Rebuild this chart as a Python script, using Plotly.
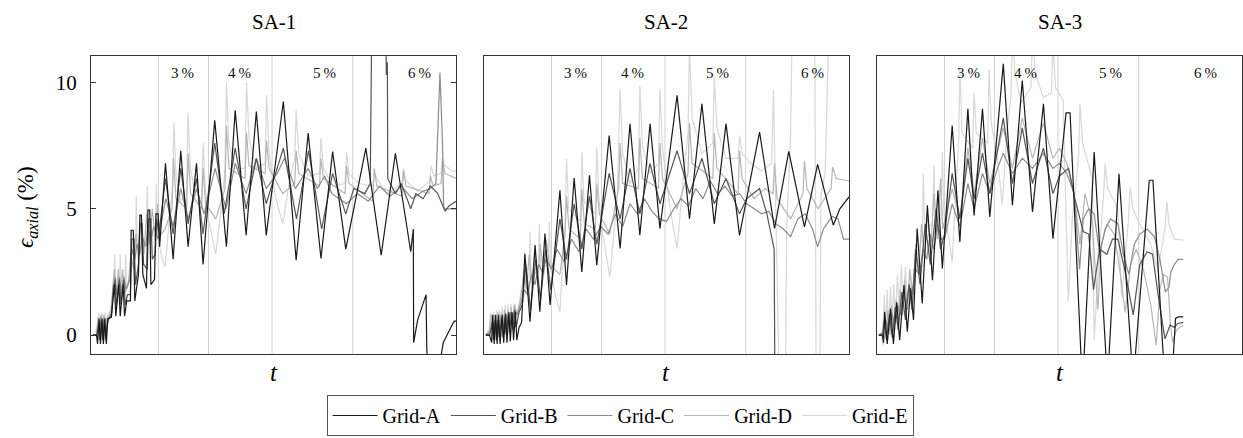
import plotly.graph_objects as go

# ---------------- data ----------------
PANELS = ["SA-1", "SA-2", "SA-3"]
GRIDS = ["Grid-A", "Grid-B", "Grid-C", "Grid-D", "Grid-E"]
AMPLITUDE_BOUNDS = [18.5, 32.2, 49.6, 71.7]          # cycle-amplitude change instants (t, % of record)
AMPLITUDE_LABELS = ["3\u2009%", "4\u2009%", "5\u2009%", "6\u2009%"]
AMPLITUDE_LABEL_T = [25.0, 40.7, 63.9, 90.0]
Y_TICKS = [0, 5, 10]

# (t, eps_axial %) samples, t in % of record length
SA1_A = [(0.5,0),(1.5,0),(1.8,-0.35),(2.2,0.65),(2.6,-0.35),(3.0,0.65),(3.4,-0.35),(3.8,0.65),(4.2,-0.35),(4.6,0.65),
         (5.6,0.7),(6.0,1.3),(6.4,2.0),(6.8,0.75),(7.6,2.0),(8.0,0.75),(8.8,2.0),(9.2,0.75),(9.8,1.35),(10.8,1.35),
         (11.0,4.15),(11.6,4.15),(12.0,1.35),(13.0,2.4),(13.4,4.75),(13.8,4.75),(14.2,2.4),(15.2,1.85),(15.6,4.95),(16.1,4.95),
         (16.4,2.0),(17.4,2.2),(17.8,4.8),(18.4,4.8),(18.8,3.5),(20.4,6.8),(22.5,3.0),(24.6,7.3),(26.6,3.5),(28.9,6.8),
         (30.7,2.8),(33.9,8.5),(37.1,3.5),(39.5,8.9),(42.5,3.95),(45.3,8.85),(48.0,3.95),(52.7,9.25),(56.2,2.96),(59.5,8.0),
         (63.0,3.03),(66.2,7.27),(69.8,3.4),(75.3,7.4),(79.5,3.16),(83.4,7.2),(87.6,3.3),(88.3,4.2),(88.4,-0.3),(89.5,0.6),
         (90.5,1.0),(91.8,1.6),(92.0,-0.6),(92.4,-1.2),(95.5,-1.2),(96.5,-0.3),(98.4,0.25),(99.5,0.55),(100,0.55)]
SA1_B = [(0.5,0),(1.6,0),(2.0,0.3),(2.4,-0.2),(2.8,0.6),(3.2,-0.2),(3.6,0.6),(4.0,-0.2),(4.6,0.6),(5.6,0.8),
         (6.0,1.6),(6.6,2.2),(7.0,1.2),(7.8,2.2),(8.2,1.2),(9.0,2.2),(9.4,1.2),(10.0,1.6),(10.8,1.6),(11.2,3.8),
         (11.8,3.8),(12.2,2.0),(13.0,2.8),(13.4,4.4),(14.0,4.4),(14.4,2.8),(15.4,2.6),(15.8,4.6),(16.4,4.6),(16.8,3.0),
         (17.6,3.2),(18.0,4.6),(18.6,4.0),(20.4,6.2),(22.5,4.0),(24.6,6.6),(26.6,4.4),(28.9,6.2),(30.7,4.0),(33.9,7.6),
         (36.5,4.8),(39.5,7.4),(42.5,5.0),(45.3,7.0),(48.0,5.2),(52.7,7.4),(56.3,4.6),(59.6,7.3),(63.2,4.2),(66.2,6.4),
         (69.8,4.8),(72.0,5.8),(75.0,5.6),(76.5,6.0),(76.9,12.0),(80.8,12.0),(80.9,10.3),(81.2,10.8),(81.3,6.2),(83.4,5.6),
         (85.0,6.0),(87.6,5.0),(89.0,5.6),(91.0,5.4),(93.0,5.9),(95.0,5.6),(97.0,4.9),(98.0,5.1),(100,5.3)]
SA1_C = [(0.5,0),(1.6,0),(2.0,0.5),(2.4,0.1),(2.8,0.7),(3.2,0.1),(3.6,0.7),(4.0,0.1),(4.6,0.5),(5.6,0.9),
         (6.0,1.8),(6.6,2.3),(7.0,1.6),(7.8,2.3),(8.2,1.6),(9.0,2.3),(9.6,1.8),(10.6,2.2),(11.2,3.4),(12.0,3.0),
         (12.6,3.6),(13.4,3.2),(14.0,3.9),(15.0,3.5),(15.6,4.2),(16.5,3.8),(17.2,4.3),(18.4,3.8),(20.5,5.4),(22.5,4.3),
         (24.6,5.8),(26.6,4.6),(28.9,5.8),(31.0,4.8),(34.0,6.6),(37.0,5.0),(39.5,6.8),(42.5,5.6),(45.3,7.0),(48.0,5.8),
         (51.0,6.4),(53.0,7.0),(56.0,5.8),(59.5,6.6),(62.0,5.8),(64.0,6.3),(66.0,5.6),(70.0,5.2),(73.0,5.6),(76.0,5.3),
         (79.0,5.9),(82.0,5.5),(85.0,5.9),(88.0,5.4),(91.0,5.7),(93.0,5.8),(94.5,6.0),(95.6,10.4),(96.3,7.6),(96.6,5.1),
         (97.0,5.0),(100,5.0)]
SA1_D = [(0.5,0),(1.5,0),(1.9,0.7),(2.3,0.0),(2.7,0.8),(3.1,0.0),(3.5,0.8),(3.9,0.1),(4.4,0.7),(5.6,1.0),
         (6.0,2.0),(6.4,2.6),(6.8,1.5),(7.5,2.6),(7.9,1.5),(8.7,2.6),(9.1,1.6),(10.2,2.0),(10.9,3.2),(11.7,2.6),
         (12.3,4.0),(13.0,3.0),(13.7,4.5),(14.5,3.2),(15.2,4.8),(16.0,3.6),(16.8,5.0),(17.6,3.8),(18.3,5.2),(18.8,3.9),
         (20.3,4.2),(22.2,5.0),(22.6,7.0),(23.3,5.4),(26.2,5.0),(26.6,7.2),(27.3,5.6),(30.3,5.0),(30.7,6.6),(31.4,5.2),
         (34.2,4.6),(36.7,5.8),(37.1,8.3),(37.8,6.6),(42.2,6.2),(42.6,8.0),(43.3,6.7),(47.7,6.4),(48.1,7.7),(48.8,6.6),
         (52.5,5.6),(55.8,6.0),(56.2,7.3),(56.9,6.4),(62.6,5.9),(63.0,7.0),(63.7,6.2),(69.6,5.6),(70.0,6.7),(70.7,6.0),
         (77.2,5.3),(77.6,6.6),(78.3,5.9),(85.2,5.5),(85.6,6.5),(86.3,5.9),(92.6,5.6),(93.0,6.3),(93.7,5.9),(95.9,6.0),
         (96.3,6.9),(97.0,6.4),(100,6.2)]
SA1_E = [(0.5,0),(1.4,0),(1.8,0.4),(2.2,0.9),(2.6,0.1),(3.0,0.9),(3.4,0.1),(3.8,0.9),(4.2,0.2),(4.8,0.6),
         (5.6,1.2),(6.2,1.8),(6.5,3.2),(6.8,1.8),(7.8,1.8),(8.0,3.2),(8.3,1.8),(9.3,1.8),(9.5,3.2),(9.8,1.9),
         (10.8,2.2),(11.0,3.0),(12.2,3.1),(12.4,5.5),(12.7,3.4),(13.8,3.5),(14.0,4.6),(14.3,3.6),(15.1,3.8),(15.4,5.9),
         (15.7,3.8),(17.6,4.0),(17.9,6.0),(18.2,4.0),(19.5,3.0),(20.3,2.7),(21.5,4.5),(22.4,6.0),(22.7,8.4),(23.3,6.3),
         (24.5,5.3),(26.2,5.6),(26.6,8.8),(27.2,6.6),(28.5,5.6),(30.3,5.4),(30.7,7.6),(31.3,5.8),(32.3,4.5),(34.2,3.2),
         (35.5,4.8),(36.7,6.5),(37.1,10.0),(37.8,7.6),(39.5,6.6),(42.2,6.6),(42.6,10.0),(43.3,7.8),(45.3,6.6),(47.7,6.8),
         (48.1,9.5),(48.8,7.2),(50.5,5.5),(52.5,4.4),(54.5,6.2),(55.8,7.0),(56.2,8.9),(56.9,7.2),(59.5,6.3),(62.6,6.4),
         (63.0,7.8),(63.7,6.6),(66.2,5.9),(69.6,6.0),(70.0,7.25),(70.7,6.4),(73.5,6.0),(77.2,5.9),(77.6,6.5),(78.3,6.2),
         (81.0,5.6),(85.2,6.0),(85.6,6.6),(86.3,6.1),(89.5,5.7),(92.8,6.1),(93.2,6.7),(93.9,6.3),(95.9,6.4),(96.3,7.0),
         (97.0,6.7),(99.0,6.5),(100,6.5)]

SA2_A = [(0.5,0),(1.5,0),(2.1,-0.3),(2.4,0.8),(2.8,-0.35),(3.2,0.8),(3.6,-0.35),(4.0,0.8),(4.4,-0.35),(5.0,0.8),
         (5.4,-0.3),(5.9,0.85),(6.3,-0.3),(6.8,0.9),(7.2,-0.25),(7.7,0.9),(8.1,-0.2),(8.6,0.9),(9.0,-0.2),(9.6,0.3),
         (10.3,0.5),(11.2,3.23),(12.6,0.53),(14.0,3.56),(15.3,0.92),(16.7,4.02),(18.1,1.19),(20.8,5.73),(22.6,1.98),(24.7,6.22),
         (26.8,2.5),(28.9,6.33),(30.9,2.77),(34.3,7.9),(37.3,3.43),(40.0,8.37),(42.7,3.95),(45.5,8.37),(48.2,4.22),(52.9,9.49),
         (56.3,4.6),(59.7,9.16),(63.1,4.4),(66.3,8.37),(70.0,3.95),(75.5,8.04),(79.6,4.22),(83.5,7.27),(87.8,4.28),(91.4,6.76),
         (95.7,4.35),(97.5,5.0),(100,5.47)]
SA2_B = [(0.5,0),(1.6,0),(2.2,0.5),(2.6,-0.2),(3.0,0.6),(3.4,-0.2),(3.8,0.6),(4.2,-0.1),(4.8,0.7),(5.2,-0.1),
         (5.7,0.7),(6.1,0.0),(6.6,0.8),(7.0,0.1),(7.5,0.9),(7.9,0.2),(8.4,1.0),(8.8,0.3),(9.6,0.9),(10.5,1.2),
         (11.4,2.8),(12.8,1.0),(14.2,3.0),(15.5,1.4),(16.9,3.4),(18.3,1.8),(20.8,4.6),(22.6,3.0),(24.7,5.2),(26.8,3.4),
         (28.9,5.5),(30.9,3.6),(34.3,6.4),(37.3,4.6),(40.0,6.6),(42.7,4.8),(45.5,6.8),(48.2,5.2),(52.9,7.3),(56.3,5.6),
         (59.7,7.0),(63.1,5.2),(66.3,6.2),(70.0,4.8),(72.0,5.4),(75.5,5.8),(77.5,4.8),(79.0,3.8),(79.5,3.4),(79.7,-2.0),
         (100,-2.0)]
SA2_C = [(0.5,0),(1.6,0.1),(2.4,0.4),(3.0,0.1),(3.6,0.5),(4.2,0.2),(4.8,0.6),(5.4,0.3),(6.0,0.8),(6.6,0.4),
         (7.2,0.9),(7.8,0.6),(8.4,1.0),(9.2,0.8),(10.0,1.2),(11.0,1.8),(12.0,1.6),(13.0,2.4),(14.0,2.0),(15.0,2.8),
         (16.0,2.5),(17.0,3.0),(18.5,2.6),(20.0,3.4),(22.0,2.9),(24.0,3.8),(26.0,3.3),(28.0,4.2),(30.0,3.8),(32.0,4.3),
         (34.0,4.0),(36.0,4.8),(38.0,4.3),(40.0,5.2),(42.0,4.8),(44.0,5.4),(46.0,4.9),(48.0,4.6),(50.0,4.5),(52.0,5.0),
         (54.0,5.4),(56.0,5.1),(58.0,5.8),(60.0,5.4),(62.0,6.1),(64.0,5.6),(66.0,5.9),(68.0,5.5),(70.0,5.6),(72.0,5.2),
         (74.0,5.0),(76.0,4.8),(78.0,4.9),(80.0,4.4),(82.0,4.2),(84.0,3.9),(86.0,4.6),(88.0,4.8),(90.0,4.2),(91.4,3.5),
         (93.0,4.2),(95.4,4.7),(97.0,4.6),(98.5,3.8),(100,3.8)]
SA2_D = [(0.5,0),(1.5,0.2),(2.0,0.8),(2.4,0.0),(2.9,0.8),(3.3,0.1),(3.8,0.9),(4.2,0.1),(4.7,0.9),(5.1,0.2),
         (5.6,1.0),(6.0,0.3),(6.5,1.0),(7.0,0.4),(7.4,1.1),(7.9,0.5),(8.4,1.2),(9.0,0.8),(10.0,1.4),(11.0,2.6),
         (11.6,1.8),(12.4,3.2),(13.2,2.0),(13.9,3.4),(14.8,2.2),(15.4,3.6),(16.4,2.4),(17.0,3.8),(18.0,2.8),(20.8,2.4),
         (22.2,4.0),(22.6,5.5),(23.3,4.2),(26.4,3.8),(26.8,5.8),(27.5,4.4),(30.5,4.2),(30.9,6.0),(31.6,4.8),(34.4,4.0),
         (36.9,5.8),(37.3,7.6),(38.0,6.0),(42.3,5.8),(42.7,7.8),(43.4,6.2),(47.8,5.8),(48.2,7.6),(48.9,6.2),(52.9,5.0),
         (55.9,6.4),(56.3,8.4),(57.0,6.8),(62.7,6.2),(63.1,8.0),(63.8,6.6),(69.6,5.6),(70.0,7.3),(70.7,6.2),(74.0,5.4),
         (77.0,5.8),(79.2,5.6),(79.6,6.8),(80.3,5.4),(84.0,4.6),(87.4,5.6),(87.8,6.9),(88.5,5.8),(91.5,5.0),(95.1,5.8),
         (95.5,6.65),(96.5,6.2),(100,6.1)]
SA2_E = [(0.5,0),(1.4,0.1),(1.8,0.9),(2.2,-0.1),(2.6,0.9),(3.0,-0.1),(3.4,1.0),(3.8,0.0),(4.2,1.0),(4.6,0.0),
         (5.0,1.1),(5.4,0.1),(5.8,1.2),(6.2,0.2),(6.6,1.2),(7.0,0.3),(7.4,1.25),(7.8,0.3),(8.2,1.25),(8.6,0.6),
         (9.4,1.0),(10.2,1.8),(11.0,1.6),(12.4,2.0),(12.6,4.1),(12.9,2.2),(14.9,2.6),(15.2,4.4),(15.5,2.6),(17.6,2.8),
         (17.9,4.5),(18.3,2.6),(19.5,1.6),(20.8,0.92),(22.2,4.5),(22.6,6.98),(23.2,5.0),(26.4,4.5),(26.8,7.24),(27.4,5.3),
         (30.5,4.8),(30.9,7.44),(31.5,5.4),(32.5,4.0),(34.5,2.3),(36.5,5.5),(37.3,9.75),(38.0,7.2),(40.0,6.0),(42.3,6.6),
         (42.7,9.88),(43.4,7.5),(45.5,6.4),(47.8,6.8),(48.2,9.75),(48.9,7.4),(51.0,5.0),(52.9,3.43),(55.0,6.8),(55.9,8.0),
         (56.3,11.5),(57.0,8.6),(59.7,7.2),(62.7,7.6),(63.1,10.2),(63.8,8.2),(66.3,7.0),(69.6,7.0),(70.0,7.9),(70.7,7.2),
         (73.0,6.8),(76.0,6.5),(78.8,6.8),(79.3,9.7),(80.9,-2.0),(82.6,-2.0),(82.9,4.0),(84.0,8.0),(84.5,13.0),(90.6,13.0),
         (91.0,-2.0),(92.0,-2.0),(92.3,5.5),(93.5,6.5),(94.6,13.0),(100,13.0)]

SA3_A = [(0.5,0),(1.5,0),(1.8,-0.3),(2.1,0.92),(2.8,-0.35),(3.7,1.05),(4.5,-0.35),(5.4,1.3),(6.2,-0.2),(7.4,1.98),
         (8.3,0.13),(9.2,1.85),(10.0,0.6),(11.0,4.22),(12.4,1.25),(13.8,5.14),(15.2,2.17),(16.7,5.73),(17.9,2.64),(20.6,8.3),
         (22.7,3.69),(24.9,8.96),(26.6,4.74),(28.9,8.96),(30.9,4.68),(34.6,10.74),(37.1,5.14),(39.8,10.08),(42.6,4.87),(45.6,9.16),
         (48.2,3.82),(51.8,8.8),(52.9,8.8),(56.1,-1.5),(56.5,-1.5),(59.5,7.25),(63.0,-1.5),(63.3,-1.5),(66.3,6.39),(70.0,-1.5),
         (70.4,-1.5),(74.6,6.13),(75.6,6.13),(78.7,-1.5),(80.9,-1.5),(81.8,0.66),(82.5,0.72),(83.9,0.72)]
SA3_B = [(0.5,0),(1.6,0),(2.0,0.6),(2.6,-0.2),(3.4,0.8),(4.2,-0.1),(5.0,1.1),(5.8,0.2),(6.8,1.7),(7.8,0.6),
         (8.8,2.0),(9.6,1.0),(10.6,3.4),(11.8,2.0),(13.2,4.4),(14.6,2.8),(16.2,5.0),(17.4,3.4),(18.5,4.0),(20.6,6.4),
         (22.7,4.6),(24.9,7.0),(26.6,5.4),(28.9,7.2),(30.9,5.6),(34.6,8.6),(37.1,6.0),(39.8,8.2),(42.6,6.0),(45.6,7.4),
         (48.2,5.6),(50.0,6.3),(52.5,6.6),(54.2,5.4),(56.5,4.1),(58.0,4.0),(59.3,1.8),(61.0,3.4),(63.0,3.2),(64.5,3.8),
         (66.0,3.8),(68.0,2.5),(70.2,0.8),(72.0,2.8),(74.0,3.3),(75.5,3.2),(77.0,1.6),(78.9,-0.15),(80.3,0.4),(81.5,0.3),
         (82.3,0.45),(83.9,0.5)]
SA3_C = [(0.5,0),(1.6,0.1),(2.4,0.6),(3.2,0.2),(4.0,0.9),(4.8,0.4),(5.6,1.2),(6.4,0.8),(7.2,1.6),(8.0,1.2),
         (8.8,2.0),(9.6,1.6),(10.6,2.6),(11.6,2.4),(12.6,3.4),(13.6,3.0),(14.6,4.0),(15.6,3.4),(16.6,4.4),(17.6,3.8),
         (18.5,3.8),(20.6,5.2),(22.7,4.3),(24.9,6.0),(26.6,5.0),(28.9,6.4),(30.9,5.6),(33.0,6.6),(34.6,7.2),(37.1,6.4),
         (39.8,7.0),(42.6,6.6),(45.6,7.2),(48.2,6.6),(50.0,6.8),(52.0,6.4),(54.0,5.6),(55.5,2.6),(56.5,4.6),(58.0,5.0),
         (59.5,4.8),(61.0,3.2),(62.5,4.2),(64.0,4.6),(66.0,4.4),(67.5,3.2),(69.0,2.4),(70.5,3.6),(72.0,4.0),(74.0,4.2),
         (76.0,3.9),(77.5,3.0),(79.0,1.7),(80.0,1.9),(80.5,2.5),(81.5,2.8),(82.5,3.0),(83.9,3.0)]
SA3_D = [(0.5,0),(1.5,0.1),(2.0,0.9),(2.5,-0.1),(3.0,1.0),(3.5,0.0),(4.0,1.2),(4.6,0.2),(5.2,1.4),(5.8,0.4),
         (6.4,1.8),(7.0,0.8),(7.6,2.2),(8.3,1.0),(9.0,2.6),(9.8,1.6),(10.6,3.6),(11.4,2.4),(12.2,4.4),(13.0,3.0),
         (13.8,4.8),(14.7,3.4),(15.6,5.6),(16.5,3.8),(17.4,6.2),(18.0,4.2),(20.6,5.8),(22.7,4.6),(24.9,7.4),(26.6,5.6),
         (28.9,7.8),(30.9,6.0),(34.6,8.2),(37.1,6.6),(39.8,8.6),(42.6,7.0),(45.6,8.4),(48.2,7.0),(50.0,7.4),(52.0,6.8),
         (54.0,5.6),(55.6,3.6),(57.0,5.6),(59.0,4.4),(60.5,1.0),(61.5,3.6),(63.0,4.4),(65.0,4.0),(66.5,2.6),(68.0,0.9),
         (69.5,2.8),(71.0,3.4),(73.0,2.6),(75.0,1.2),(76.5,-0.4),(77.5,1.8),(78.5,2.4),(79.6,2.3),(80.4,0.4),(81.0,-0.3),
         (82.0,0.2),(83.9,0.4)]
SA3_E = [(0.5,0),(1.3,0.0),(1.6,-0.4),(2.0,1.6),(2.4,0.2),(2.8,1.8),(3.2,0.2),(3.7,1.9),(4.1,0.3),(4.6,2.0),
         (5.0,0.5),(5.6,2.4),(6.0,0.9),(6.7,2.8),(7.1,1.2),(7.8,2.7),(8.3,1.0),(9.0,2.5),(9.6,1.6),(10.4,2.8),
         (11.0,3.2),(12.4,3.8),(12.7,6.4),(13.1,4.2),(15.2,4.4),(15.6,6.7),(16.0,4.4),(17.5,4.6),(17.9,7.25),(18.3,4.8),
         (19.5,4.0),(20.6,2.9),(21.5,5.5),(22.4,7.8),(22.7,10.54),(23.3,8.0),(26.2,7.4),(26.6,9.6),(27.2,8.0),(30.3,7.6),
         (30.7,10.5),(31.3,8.4),(33.0,7.0),(34.3,5.14),(35.6,8.0),(36.7,9.5),(37.1,12.0),(37.8,10.4),(39.5,9.2),(42.2,9.8),
         (42.6,12.0),(43.3,10.4),(45.6,9.4),(47.8,9.6),(48.2,11.6),(48.9,9.8),(51.0,9.3),(52.4,1.32),(53.5,4.6),(55.2,7.0),
         (55.6,9.16),(56.3,7.6),(59.0,6.2),(59.5,-0.2),(61.0,3.5),(62.1,5.6),(62.5,6.79),(63.2,5.8),(66.0,5.0),(67.0,1.5),
         (68.8,4.4),(69.4,5.86),(70.1,5.0),(72.0,4.4),(75.0,3.6),(77.0,2.6),(78.9,4.2),(79.4,5.27),(80.0,4.4),(81.5,3.8),
         (83.9,3.76)]

SERIES = [
    [SA1_A, SA1_B, SA1_C, SA1_D, SA1_E],
    [SA2_A, SA2_B, SA2_C, SA2_D, SA2_E],
    [SA3_A, SA3_B, SA3_C, SA3_D, SA3_E],
]

# ---------------- styling ----------------
COLORS = ["#1a1a1a", "#555555", "#8c8c8c", "#b6b6b6", "#d8d8d8"]
FONT = "Liberation Serif"
W, H = 1243, 438
X_DOMAINS = [(91 / W, 456 / W), (484 / W, 849 / W), (877 / W, 1242 / W)]
Y_DOMAIN = (1 - 354 / H, 1 - 56 / H)
Y_RANGE = [-0.75, 11.05]

fig = go.Figure()

for p in range(3):
    xa = "x" if p == 0 else f"x{p + 1}"
    ya = "y" if p == 0 else f"y{p + 1}"
    # draw lightest first so the dark curves sit on top
    for g in reversed(range(5)):
        pts = SERIES[p][g]
        fig.add_trace(go.Scatter(
            x=[q[0] for q in pts], y=[q[1] for q in pts],
            mode="lines", name=GRIDS[g],
            line=dict(color=COLORS[g], width=1.2),
            xaxis=xa, yaxis=ya,
            showlegend=(p == 0), legendrank=g + 1,
            hoverinfo="skip",
        ))
    for b in AMPLITUDE_BOUNDS:
        fig.add_shape(type="line", xref=xa, yref=f"{ya} domain", x0=b, x1=b, y0=0, y1=1,
                      line=dict(color="#d2d2d2", width=1), layer="below")
    for lab, t in zip(AMPLITUDE_LABELS, AMPLITUDE_LABEL_T):
        fig.add_annotation(x=t, y=10.36, xref=xa, yref=ya, text=lab, showarrow=False,
                           font=dict(family=FONT, size=15, color="#111"))
    cx = (X_DOMAINS[p][0] + X_DOMAINS[p][1]) / 2
    fig.add_annotation(x=cx, y=1 - 22 / H, xref="paper", yref="paper", text=PANELS[p],
                       showarrow=False, font=dict(family=FONT, size=21, color="#000"),
                       xanchor="center", yanchor="middle")
    fig.add_annotation(x=cx, y=1 - 372 / H, xref="paper", yref="paper", text="<i>t</i>",
                       showarrow=False, font=dict(family=FONT, size=25, color="#000"),
                       xanchor="center", yanchor="middle")

fig.add_annotation(x=27 / W, y=1 - 207 / H, xref="paper", yref="paper", textangle=-90,
                   text="<i>\u03f5</i><sub><i>axial</i></sub> (%)", showarrow=False,
                   font=dict(family=FONT, size=23, color="#000"),
                   xanchor="center", yanchor="middle")

layout = dict(
    width=W, height=H, autosize=False,
    margin=dict(l=0, r=0, t=0, b=0),
    paper_bgcolor="white", plot_bgcolor="white",
    font=dict(family=FONT, color="#000"),
    legend=dict(orientation="h", x=620 / W, y=1 - 395 / H, xanchor="center", yanchor="top",
                bordercolor="#555", borderwidth=1, font=dict(family=FONT, size=20),
                itemwidth=45, tracegroupgap=0, bgcolor="white"),
)
for p in range(3):
    xk = "xaxis" if p == 0 else f"xaxis{p + 1}"
    yk = "yaxis" if p == 0 else f"yaxis{p + 1}"
    layout[xk] = dict(domain=list(X_DOMAINS[p]), range=[0, 100], showgrid=False, zeroline=False,
                      showline=True, mirror=True, linecolor="#333", linewidth=1,
                      showticklabels=False, ticks="", anchor="y" if p == 0 else f"y{p + 1}")
    yax = dict(domain=list(Y_DOMAIN), range=Y_RANGE, showgrid=False, zeroline=False,
               showline=True, mirror=True, linecolor="#333", linewidth=1,
               anchor="x" if p == 0 else f"x{p + 1}")
    if p == 0:
        yax.update(tickvals=Y_TICKS, ticktext=[str(v) for v in Y_TICKS], ticks="inside",
                   ticklen=5, tickcolor="#333", showticklabels=True,
                   tickfont=dict(family=FONT, size=21, color="#000"), ticklabelstandoff=9)
        yax["mirror"] = "ticks"
    else:
        yax.update(showticklabels=False, ticks="")
    layout[yk] = yax

fig.update_layout(**layout)
fig.write_html("out.html", config={"displayModeBar": False},
               post_script="document.body.style.margin='0';")
